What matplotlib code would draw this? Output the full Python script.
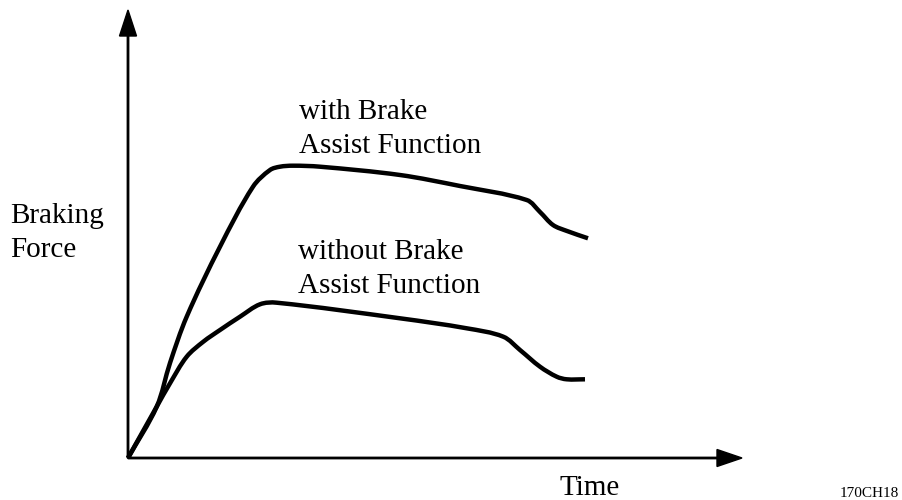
import matplotlib
matplotlib.use("Agg")
import matplotlib.pyplot as plt
import numpy as np
from matplotlib.path import Path
from matplotlib.patches import PathPatch

# Curves (time, braking force), arbitrary units
time_with = [0, 28.7, 42, 58.7, 92, 125, 142, 152, 165, 192, 272, 332,
             398.7, 412, 425, 439, 460]
force_with = [0, 51.3, 95, 141.3, 211.3, 271.3, 288, 291.3, 292.3, 291.3, 283,
              272, 258, 246, 233, 227, 219.7]

time_without = [0, 28.7, 42, 58.7, 75.3, 92, 112, 132, 148.7, 272, 338.7,
                375.3, 392, 412, 428.7, 438.7, 457]
force_without = [0, 51.3, 74.7, 101.3, 116.3, 128, 141.3, 153.7, 155.3, 139.7,
                 129.7, 121.3, 108, 91.3, 81.3, 78.7, 78.7]

x_max = 614
y_max = 448

plt.rcParams['font.family'] = ['Liberation Serif', 'DejaVu Serif']

fig = plt.figure(figsize=(9.02, 5.0), dpi=100)
W, H = 902, 500
ax = fig.add_axes([128 / W, 42 / H, x_max / W, y_max / H])
ax.set_xlim(0, x_max)
ax.set_ylim(0, y_max)
ax.axis('off')

# axes with arrow heads
ax.arrow(0, 0, x_max, 0, width=1.4, head_width=17, head_length=25,
         length_includes_head=True, fc='black', ec='black', clip_on=False)
ax.arrow(0, 0, 0, y_max, width=1.4, head_width=17, head_length=26,
         length_includes_head=True, fc='black', ec='black', clip_on=False)


def smooth_curve(xs, ys):
    # smooth bezier path through the read points, tangent handles scaled
    # by segment length so uneven spacing does not overshoot
    p = np.column_stack([xs, ys]).astype(float)
    n = len(p)
    tang = []
    for i in range(n):
        d = p[min(i + 1, n - 1)] - p[max(i - 1, 0)]
        tang.append(d / np.hypot(*d))
    verts = [p[0]]
    codes = [Path.MOVETO]
    for i in range(n - 1):
        seg = np.hypot(*(p[i + 1] - p[i])) / 3
        verts += [p[i] + tang[i] * seg, p[i + 1] - tang[i + 1] * seg, p[i + 1]]
        codes += [Path.CURVE4] * 3
    return PathPatch(Path(verts, codes), fill=False, ec='black', lw=3.2,
                     capstyle='butt', joinstyle='round', clip_on=False)


ax.add_patch(smooth_curve(time_with, force_with))
ax.add_patch(smooth_curve(time_without, force_without))


def label(x, y, s, size=21):
    fig.text(x / W, 1 - y / H, s, fontsize=size, ha='left', va='baseline')


label(299, 119, "with Brake")
label(299, 153, "Assist Function")
label(298, 259, "without Brake")
label(298, 293, "Assist Function")
label(10, 223, "Braking")
label(10, 257, "Force")
label(560, 495, "Time")
label(840, 497, "170CH18", size=11)

fig.savefig("out.png", dpi=100)
